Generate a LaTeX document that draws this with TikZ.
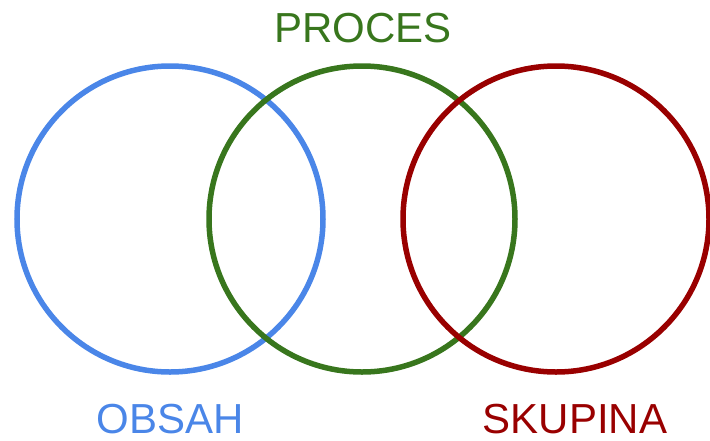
\documentclass[tikz,border=0pt]{standalone}
\usepackage{fontspec}
\setmainfont{Liberation Sans}
\definecolor{cblue}{HTML}{4A86E8}
\definecolor{cgreen}{HTML}{38761D}
\definecolor{cred}{HTML}{990000}
\begin{document}
\begin{tikzpicture}[x=1pt,y=-1pt,
  ring/.style={line width=5.5pt},
  lbl/.style={font=\fontsize{42}{42}\selectfont, anchor=base, inner sep=0pt, text depth=0pt}]
\useasboundingbox (0,0) rectangle (710,440);
\draw[ring, cblue] (170,219) circle[radius=153];
\draw[ring, cgreen] (362,219) circle[radius=153];
\draw[ring, cred] (556,219) circle[radius=153];
\node[lbl, text=cgreen] (proces) at (363,42.5) {PROCES};
\node[lbl, text=cblue] (obsah) at (170,433) {OBSAH};
\node[lbl, text=cred] (skupina) at (575,433) {SKUPINA};
\end{tikzpicture}
\end{document}
